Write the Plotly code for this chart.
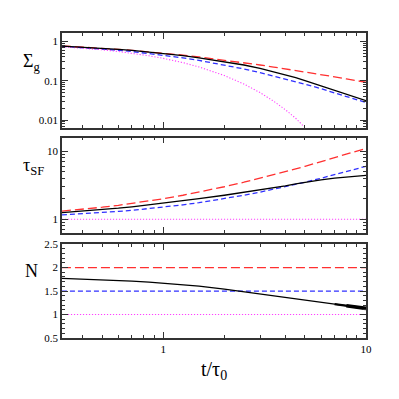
import plotly.graph_objects as go

# ---------------- data ----------------
t = [0.316, 0.4, 0.5, 0.6, 0.7, 0.85, 1.0, 1.25, 1.5, 2.0, 2.5, 3.0, 3.5,
     4.0, 4.5, 5.0, 6.0, 7.0, 8.0, 9.0, 10.0]

sigma_black = [0.75, 0.71, 0.665, 0.62, 0.585, 0.535, 0.49, 0.43, 0.38, 0.305,
               0.25, 0.205, 0.17, 0.143, 0.12, 0.10, 0.074, 0.058, 0.046, 0.038, 0.031]
sigma_red = [0.760, 0.714, 0.667, 0.625, 0.588, 0.541, 0.5, 0.444, 0.4, 0.333,
             0.286, 0.25, 0.222, 0.2, 0.182, 0.167, 0.143, 0.125, 0.111, 0.1, 0.091]
sigma_blue = [0.746, 0.694, 0.64, 0.592, 0.549, 0.492, 0.444, 0.379, 0.327, 0.25,
              0.198, 0.16, 0.132, 0.111, 0.0947, 0.0816, 0.0625, 0.0494, 0.04, 0.0331, 0.0278]
sigma_magenta = [0.729, 0.670, 0.607, 0.549, 0.497, 0.427, 0.368, 0.287, 0.223, 0.135,
                 0.082, 0.0498, 0.0302, 0.0183, 0.0111, 0.0067, 0.0025, 0.0009, 0.00034,
                 0.00012, 0.000045]

tau_black = [1.25, 1.31, 1.38, 1.45, 1.52, 1.62, 1.72, 1.87, 2.0, 2.25, 2.48, 2.7,
             2.9, 3.1, 3.3, 3.5, 3.8, 4.02, 4.2, 4.32, 4.42]
tau_red = [1.316, 1.4, 1.5, 1.6, 1.7, 1.85, 2.0, 2.25, 2.5, 3.0, 3.5, 4.0, 4.5,
           5.0, 5.5, 6.0, 7.0, 8.0, 9.0, 10.0, 11.0]
tau_blue = [1.158, 1.2, 1.25, 1.3, 1.35, 1.425, 1.5, 1.625, 1.75, 2.0, 2.25, 2.5,
            2.75, 3.0, 3.25, 3.5, 4.0, 4.5, 5.0, 5.5, 6.0]
tau_magenta = [1.0] * len(t)

n_black = [1.77, 1.755, 1.74, 1.725, 1.71, 1.69, 1.665, 1.635, 1.605, 1.54, 1.485,
           1.44, 1.40, 1.365, 1.335, 1.305, 1.26, 1.22, 1.185, 1.155, 1.13]
n_red = [2.0] * len(t)
n_blue = [1.5] * len(t)
n_magenta = [1.0] * len(t)

x_ticks = [1, 10]
x_minor = [0.4, 0.5, 0.6, 0.7, 0.8, 0.9, 2, 3, 4, 5, 6, 7, 8, 9]
y1_ticks = [0.01, 0.1, 1]
y1_labels = ["0.01", "0.1", "1"]
y2_ticks = [1, 10]
y3_ticks = [0.5, 1, 1.5, 2, 2.5]

# ---------------- styles ----------------
BLACK = "#000000"
RED = "#ff3030"
BLUE = "#3030ff"
MAG = "#ff40ff"
styles = {
    "black": dict(color=BLACK, width=1.3),
    "red": dict(color=RED, width=1.3, dash="9px,4px"),
    "blue": dict(color=BLUE, width=1.3, dash="5px,3px"),
    "mag": dict(color=MAG, width=1.1, dash="1.2px,1.8px"),
}

fig = go.Figure()

panels = [
    ("y", [sigma_red, sigma_blue, sigma_magenta, sigma_black]),
    ("y2", [tau_red, tau_blue, tau_magenta, tau_black]),
    ("y3", [n_red, n_blue, n_magenta, n_black]),
]
for yax, series in panels:
    xa = {"y": "x", "y2": "x2", "y3": "x3"}[yax]
    for name, vals in zip(["red", "blue", "mag", "black"], series):
        fig.add_trace(go.Scatter(x=t, y=vals, mode="lines", line=styles[name],
                                 xaxis=xa, yaxis=yax, showlegend=False, hoverinfo="skip"))

# noisy (thickened) tail of the black N curve
fig.add_trace(go.Scatter(x=t[-4:], y=n_black[-4:], mode="lines",
                         line=dict(color=BLACK, width=2.4), xaxis="x3", yaxis="y3",
                         showlegend=False, hoverinfo="skip"))
fig.add_trace(go.Scatter(x=t[-3:], y=n_black[-3:], mode="lines",
                         line=dict(color=BLACK, width=3.6), xaxis="x3", yaxis="y3",
                         showlegend=False, hoverinfo="skip"))

FONT = "Liberation Serif"
tickfont = dict(family=FONT, size=11, color="black")
common_axis = dict(showline=True, linecolor="#333333", linewidth=1.5, mirror="allticks",
                   ticks="inside", ticklen=6, tickwidth=1, tickcolor="#333333",
                   showgrid=False, zeroline=False, tickfont=tickfont)

log_minor = dict(ticks="inside", ticklen=3, tickwidth=1, tickcolor="#333333", showgrid=False)

def xaxis(show_labels, anchor):
    return dict(common_axis, type="log", range=[-0.5, 1.0], tickvals=x_ticks,
                ticktext=["1", "10"], showticklabels=show_labels, anchor=anchor,
                domain=[0, 1],
                minor=dict(log_minor, tickvals=x_minor))

y1_minor = [v * m for v in [0.001, 0.01, 0.1, 1] for m in range(2, 10)]
y2_minor = [v * m for v in [0.1, 1, 10] for m in range(2, 10)]
y3_minor = [round(0.5 + 0.1 * i, 2) for i in range(21)]

# page body has an 8px margin: figure is 391 px and offset accordingly
W, H = 391, 391
OFF = 8
L, R, T, B = 54, 33, 25, 61

fig.update_layout(
    width=W, height=H,
    margin=dict(l=L, r=R, t=T, b=B),
    paper_bgcolor="white", plot_bgcolor="white",
    xaxis=xaxis(False, "y"),
    xaxis2=xaxis(False, "y2"),
    xaxis3=xaxis(True, "y3"),
    yaxis=dict(common_axis, type="log", range=[-2.19, 0.21], tickvals=y1_ticks,
               ticktext=y1_labels, domain=[0.69, 1.0], anchor="x",
               minor=dict(log_minor, tickvals=y1_minor)),
    yaxis2=dict(common_axis, type="log", range=[-0.2, 1.2], tickvals=y2_ticks,
                ticktext=["1", "10"], domain=[0.345, 0.657], anchor="x2",
                minor=dict(log_minor, tickvals=y2_minor)),
    yaxis3=dict(common_axis, range=[0.5, 2.5], tickvals=y3_ticks,
                ticktext=["0.5", "1", "1.5", "2", "2.5"], domain=[0.0, 0.308], anchor="x3",
                minor=dict(log_minor, tickvals=y3_minor)),
)

labfont = dict(family=FONT, size=18, color="black")
fig.add_annotation(text="Σ<sub>g</sub>", x=31, y=62, showarrow=False, font=labfont)
fig.add_annotation(text="τ<sub>SF</sub>", x=33, y=166, showarrow=False, font=labfont)
fig.add_annotation(text="N", x=31, y=271, showarrow=False, font=labfont)
fig.add_annotation(text="t/τ<sub>0</sub>", x=214, y=370, showarrow=False,
                   font=dict(family=FONT, size=20, color="black"))

# convert page-pixel-placed annotations to paper coords
pw, ph = W - L - R, H - T - B
for ann in fig.layout.annotations:
    px, py = ann.x - OFF, ann.y - OFF
    ann.xref = "paper"
    ann.yref = "paper"
    ann.x = (px - L) / pw
    ann.y = (H - B - py) / ph
    ann.xanchor = "center"
    ann.yanchor = "middle"

fig.write_html("out.html")
